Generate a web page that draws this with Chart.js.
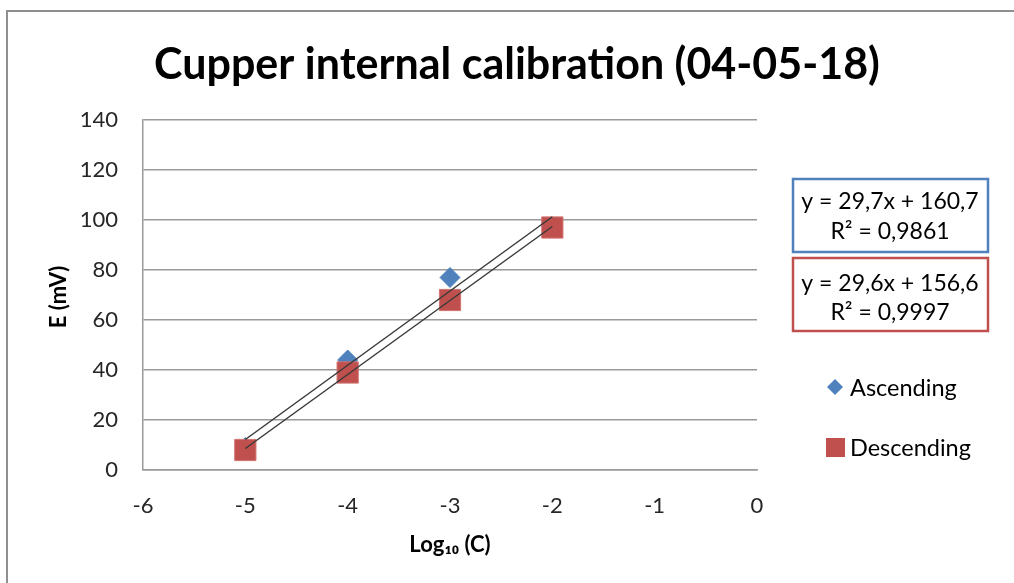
<!DOCTYPE html>
<html>
<head>
<meta charset="utf-8">
<script src="https://cdn.jsdelivr.net/npm/chart.js@4.4.1/dist/chart.umd.min.js"></script>
<style>
html,body{margin:0;padding:0;background:#fff;overflow:hidden;}
#wrap{position:relative;width:1014px;height:583px;}
canvas{display:block;}
</style>
</head>
<body>
<div id="wrap"><canvas id="c" width="1014" height="583"></canvas></div>
<script>
// ---- data ----
const logC = [-5, -4, -3, -2];
const ascending = [9, 44, 77, 97];
const descending = [8, 39, 68, 97];
const seriesNames = ['Ascending', 'Descending'];
const yTicks = [0, 20, 40, 60, 80, 100, 120, 140];
const xTicks = [-6, -5, -4, -3, -2, -1, 0];
const titleText = 'Cupper internal calibration (04-05-18)';
const xTitle = 'Log\u2081\u2080 (C)';
const yTitle = 'E (mV)';

const BLUE = '#4F81BD', RED = '#C0504D';

function regress(xs, ys) {
  const n = xs.length;
  const mx = xs.reduce((a, b) => a + b, 0) / n;
  const my = ys.reduce((a, b) => a + b, 0) / n;
  let sxy = 0, sxx = 0, syy = 0;
  for (let i = 0; i < n; i++) { sxy += (xs[i]-mx)*(ys[i]-my); sxx += (xs[i]-mx)**2; syy += (ys[i]-my)**2; }
  const m = sxy / sxx, b = my - m * mx;
  let ssr = 0;
  for (let i = 0; i < n; i++) ssr += (ys[i] - (m*xs[i]+b))**2;
  return { m, b, r2: 1 - ssr / syy };
}
const fitA = regress(logC, ascending);
const fitD = regress(logC, descending);
const fmt = (v, d) => v.toFixed(d).replace('.', ',');
function eqLines(f) {
  return ['y = ' + fmt(f.m, 1) + 'x + ' + fmt(f.b, 1), 'R\u00B2 = ' + fmt(f.r2, 4)];
}
function trend(f) {
  const x0 = logC[0], x1 = logC[logC.length - 1];
  return [{x: x0, y: f.m*x0 + f.b}, {x: x1, y: f.m*x1 + f.b}];
}

const FONT = 'Lato, "Open Sans", sans-serif';

const decor = {
  id: 'decor',
  beforeDraw(chart) {
    const ctx = chart.ctx;
    ctx.save();
    ctx.strokeStyle = '#8f8f8f';
    ctx.lineWidth = 2;
    ctx.beginPath();
    ctx.moveTo(7, 600); ctx.lineTo(7, 11); ctx.lineTo(1100, 11);
    ctx.stroke();
    ctx.restore();
  },
  afterDraw(chart) {
    const ctx = chart.ctx;
    const ca = chart.chartArea;
    ctx.save();
    // title
    ctx.fillStyle = '#000';
    ctx.font = 'bold 43px ' + FONT;
    ctx.textAlign = 'center';
    ctx.textBaseline = 'middle';
    ctx.fillText(titleText, 517, 65);
    // axis titles
    ctx.font = 'bold 22px ' + FONT;
    ctx.fillText(xTitle, (ca.left + ca.right) / 2, 545);
    ctx.save();
    ctx.translate(59, 297);
    ctx.rotate(-Math.PI / 2);
    ctx.fillText(yTitle, 0, 0);
    ctx.restore();
    // equation boxes
    const boxes = [
      {c: BLUE, y0: 179, lines: eqLines(fitA), ly: [202, 232]},
      {c: RED, y0: 258, lines: eqLines(fitD), ly: [284, 313]}
    ];
    ctx.font = '23px ' + FONT;
    boxes.forEach(b => {
      ctx.fillStyle = '#fff';
      ctx.fillRect(793, b.y0, 195, 73);
      ctx.strokeStyle = b.c;
      ctx.lineWidth = 2.5;
      ctx.strokeRect(793, b.y0, 195, 73);
      ctx.fillStyle = '#000';
      ctx.textAlign = 'center';
      ctx.fillText(b.lines[0], 890, b.ly[0]);
      ctx.fillText(b.lines[1], 890, b.ly[1]);
    });
    // legend
    ctx.font = '23.5px ' + FONT;
    ctx.textAlign = 'left';
    ctx.fillStyle = BLUE;
    ctx.beginPath();
    ctx.moveTo(835, 379); ctx.lineTo(843, 387); ctx.lineTo(835, 395); ctx.lineTo(827, 387); ctx.closePath();
    ctx.fill();
    ctx.fillStyle = RED;
    ctx.fillRect(826, 438, 19, 19);
    ctx.fillStyle = '#000';
    ctx.fillText(seriesNames[0], 850, 388);
    ctx.fillText(seriesNames[1], 850, 448);
    ctx.restore();
  }
};

new Chart(document.getElementById('c'), {
  type: 'scatter',
  data: {
    datasets: [
      { label: 'Ascending trend', type: 'line', data: trend(fitA), borderColor: '#3a3a3a', borderWidth: 1.5, pointRadius: 0, fill: false, order: 0 },
      { label: 'Descending trend', type: 'line', data: trend(fitD), borderColor: '#3a3a3a', borderWidth: 1.5, pointRadius: 0, fill: false, order: 0 },
      { label: seriesNames[0], data: logC.map((x, i) => ({x, y: ascending[i]})), pointStyle: 'rectRot', pointRadius: 10, backgroundColor: BLUE, borderColor: BLUE, borderWidth: 1, order: 2 },
      { label: seriesNames[1], data: logC.map((x, i) => ({x, y: descending[i]})), pointStyle: 'rect', pointRadius: 15, backgroundColor: RED, borderColor: '#d07370', borderWidth: 1, order: 1 }
    ]
  },
  options: {
    responsive: false,
    animation: false,
    layout: { padding: { top: 120, left: 0, right: 257, bottom: 0 } },
    plugins: { legend: { display: false }, title: { display: false }, tooltip: { enabled: false } },
    scales: {
      x: {
        type: 'linear', min: -6, max: 0,
        afterBuildTicks: s => { s.ticks = xTicks.map(v => ({value: v})); },
        afterFit: s => { s.height = 113; },
        grid: { display: false, drawTicks: false },
        border: { display: true, color: '#9a9a9a', width: 1.5 },
        ticks: { padding: 23, color: '#262626', font: { family: FONT, size: 22 }, maxRotation: 0 }
      },
      y: {
        min: 0, max: 140,
        afterBuildTicks: s => { s.ticks = yTicks.map(v => ({value: v})); },
        afterFit: s => { s.width = 143; },
        grid: { color: '#9a9a9a', lineWidth: 1.5, drawTicks: false },
        border: { display: true, color: '#9a9a9a', width: 1.5 },
        ticks: { padding: 25, color: '#262626', font: { family: FONT, size: 22 } }
      }
    }
  },
  plugins: [decor]
});
</script>
</body>
</html>
